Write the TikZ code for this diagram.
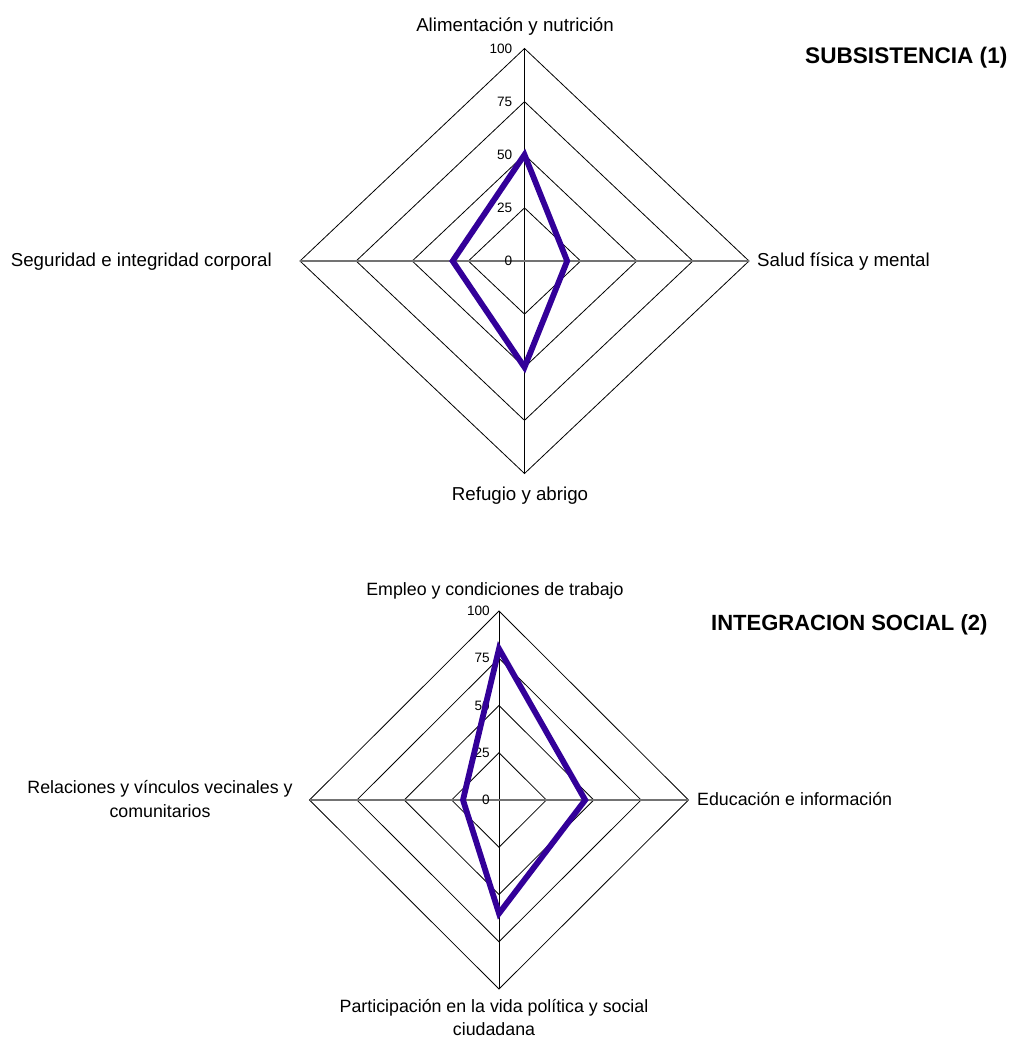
\documentclass[tikz,border=0pt]{standalone}
\usepackage{fontspec}
\setmainfont{Liberation Sans}
\tikzset{
  grid/.style={draw=black, line width=0.8pt},
  hspoke/.style={draw=black!55, line width=1.3pt},
  vspoke/.style={draw=black, line width=0.8pt},
  serie/.style={draw={rgb,255:red,51;green,0;blue,153}, line width=5.8pt, line join=miter},
  tick/.style={inner sep=0pt, anchor=east, font=\fontsize{13.6}{16}\selectfont},
  cat/.style={inner sep=0pt, font=\fontsize{18.7}{24}\selectfont},
  catb/.style={inner sep=0pt, font=\fontsize{17.8}{23.5}\selectfont},
  title/.style={inner sep=0pt, anchor=base west, font=\fontsize{22.6}{26}\selectfont\bfseries},
  titleb/.style={inner sep=0pt, anchor=base west, font=\fontsize{22}{26}\selectfont\bfseries}
}
\newcommand{\myradar}[6]{% cx cy rx ry tickoffset prefix
  \foreach \f in {0.25,0.5,0.75,1}{
    \draw[grid] (#1,#2-\f*#4) -- (#1+\f*#3,#2) -- (#1,#2+\f*#4) -- (#1-\f*#3,#2) -- cycle;
  }
  \draw[vspoke] (#1,#2-#4) -- (#1,#2+#4);
  \draw[hspoke] (#1-#3,#2) -- (#1+#3,#2);
  \foreach \f/\t in {0/0,0.25/25,0.5/50,0.75/75,1/100}{
    \node[tick] (#6t\t) at (#1-#5,#2-\f*#4) {\t};
  }
}
\begin{document}
\begin{tikzpicture}[x=1pt,y=-1pt]
\useasboundingbox[fill=white] (0,0) rectangle (1010,1039);

% ---------- chart 1
\myradar{524.5}{261}{224.5}{212.5}{12}{a}
\coordinate (a1) at (524.5,{261-0.50*212.5});
\coordinate (a2) at ({524.5+0.19*224.5},261);
\coordinate (a3) at (524.5,{261+0.50*212.5});
\coordinate (a4) at ({524.5-0.32*224.5},261);
\draw[serie] (a1) -- (a2) -- (a3) -- (a4) -- cycle;

\node[cat, anchor=base] (acat1) at (515,31.5) {Alimentación y nutrición};
\node[cat, anchor=base west] (acat2) at (757,266.5) {Salud física y mental};
\node[cat, anchor=base] (acat3) at (520,500) {Refugio y abrigo};
\node[cat, anchor=base east] (acat4) at (272,266.5) {Seguridad e integridad corporal};
\node[title] (atitle) at (805,63.5) {SUBSISTENCIA (1)};

% ---------- chart 2
\myradar{499}{800}{189.5}{189}{9}{b}
\coordinate (b1) at (499,{800-0.80*189});
\coordinate (b2) at ({499+0.455*189.5},800);
\coordinate (b3) at (499,{800+0.60*189});
\coordinate (b4) at ({499-0.19*189.5},800);
\draw[serie] (b1) -- (b2) -- (b3) -- (b4) -- cycle;

\node[catb, anchor=base] (bcat1) at (495,595) {Empleo y condiciones de trabajo};
\node[catb, anchor=base west] (bcat2) at (697,805.5) {Educación e información};
\node[catb, anchor=base, align=center] (bcat3) at (494,1035.5) {Participación en la vida política y social\\ciudadana};
\node[catb, anchor=base, align=center] (bcat4) at (160,817) {Relaciones y vínculos vecinales y\\comunitarios};
\node[titleb] (btitle) at (711,630) {INTEGRACION SOCIAL (2)};
\end{tikzpicture}
\end{document}
